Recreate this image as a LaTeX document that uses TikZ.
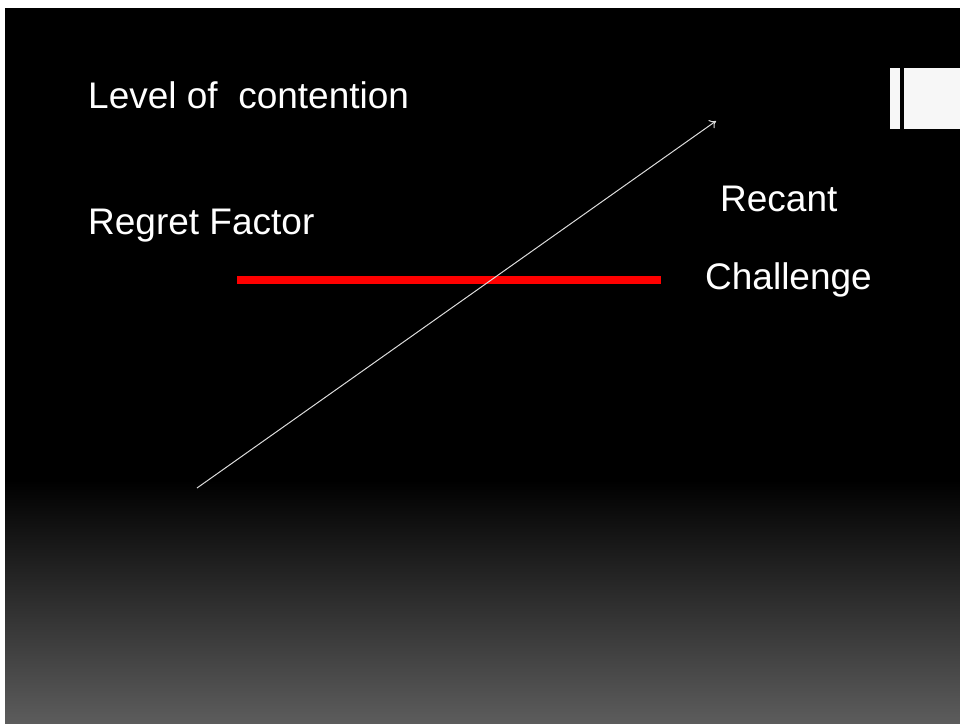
\documentclass[tikz,border=0pt]{standalone}
\usepackage{fontspec}
\setmainfont{Liberation Sans}
\usetikzlibrary{arrows.meta}
\definecolor{lightbar}{RGB}{247,247,247}
\definecolor{bottomgray}{RGB}{92,92,92}
\definecolor{arrowgray}{RGB}{220,220,220}
\tikzset{
  lbl/.style={anchor=base west, inner sep=0pt, text=white, font=\fontsize{37}{44}\selectfont},
  bar/.style={fill=lightbar, draw=none}
}
\begin{document}
\begin{tikzpicture}[x=1pt,y=-1pt]
\useasboundingbox (0,0) rectangle (960,723);
\fill[white] (0,0) rectangle (960,723);
\fill[black] (5,8) rectangle (960,482);
\shade[top color=black, bottom color=bottomgray, draw=none] (5,480) rectangle (960,723);
\fill[bar] (890,68) rectangle (900,129);
\fill[bar] (904,68) rectangle (960,129);
\node[lbl] (level) at (88,108) {Level of\ \ contention};
\node[lbl] (regret) at (88,234) {Regret Factor};
\node[lbl] (recant) at (720,211) {Recant};
\node[lbl] (challenge) at (705,289) {Challenge};
\coordinate (rl) at (237,280);
\coordinate (rr) at (661,280);
\coordinate (as) at (197,488);
\coordinate (ae) at (716,121);
\draw[red, line width=8pt] (rl) -- (rr);
\draw[arrowgray, line width=1pt, -{To[length=6pt,width=10pt]}] (as) -- (ae);
\end{tikzpicture}
\end{document}
